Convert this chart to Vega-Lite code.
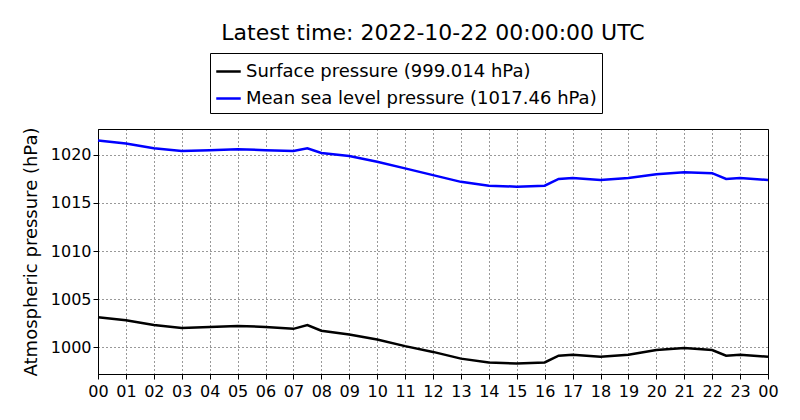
{
  "$schema": "https://vega.github.io/schema/vega-lite/v6.json",
  "autosize": "none",
  "width": 670,
  "height": 245,
  "padding": {"left": 98, "top": 129, "right": 32, "bottom": 46},
  "background": "#ffffff",
  "title": {"text": "Latest time: 2022-10-22 00:00:00 UTC", "fontSize": 22, "font": "DejaVu Sans", "fontWeight": "normal", "color": "#000000", "offset": 8, "anchor": "middle"},
  "data": {
    "values": [
      {"hour": 0, "Surface": 1003.1, "MSL": 1021.5},
      {"hour": 1, "Surface": 1002.8, "MSL": 1021.2},
      {"hour": 2, "Surface": 1002.3, "MSL": 1020.7},
      {"hour": 3, "Surface": 1002.0, "MSL": 1020.4},
      {"hour": 4, "Surface": 1002.1, "MSL": 1020.5},
      {"hour": 5, "Surface": 1002.2, "MSL": 1020.6},
      {"hour": 6, "Surface": 1002.1, "MSL": 1020.5},
      {"hour": 7, "Surface": 1001.9, "MSL": 1020.4},
      {"hour": 7.5, "Surface": 1002.3, "MSL": 1020.7},
      {"hour": 8, "Surface": 1001.7, "MSL": 1020.2},
      {"hour": 9, "Surface": 1001.3, "MSL": 1019.9},
      {"hour": 10, "Surface": 1000.8, "MSL": 1019.3},
      {"hour": 11, "Surface": 1000.1, "MSL": 1018.6},
      {"hour": 12, "Surface": 999.5, "MSL": 1017.9},
      {"hour": 13, "Surface": 998.8, "MSL": 1017.2},
      {"hour": 14, "Surface": 998.4, "MSL": 1016.8},
      {"hour": 15, "Surface": 998.3, "MSL": 1016.7},
      {"hour": 16, "Surface": 998.4, "MSL": 1016.8},
      {"hour": 16.5, "Surface": 999.1, "MSL": 1017.5},
      {"hour": 17, "Surface": 999.2, "MSL": 1017.6},
      {"hour": 18, "Surface": 999.0, "MSL": 1017.4},
      {"hour": 19, "Surface": 999.2, "MSL": 1017.6},
      {"hour": 20, "Surface": 999.7, "MSL": 1018.0},
      {"hour": 21, "Surface": 999.9, "MSL": 1018.2},
      {"hour": 22, "Surface": 999.7, "MSL": 1018.1},
      {"hour": 22.5, "Surface": 999.1, "MSL": 1017.5},
      {"hour": 23, "Surface": 999.2, "MSL": 1017.6},
      {"hour": 24, "Surface": 999.0, "MSL": 1017.4}
    ]
  },
  "transform": [
    {"fold": ["Surface", "MSL"], "as": ["key", "pressure"]},
    {"lookup": "key", "from": {"data": {"values": [
      {"key": "Surface", "series": "Surface pressure (999.014 hPa)"},
      {"key": "MSL", "series": "Mean sea level pressure (1017.46 hPa)"}
    ]}, "key": "key", "fields": ["series"]}}
  ],
  "mark": {"type": "line", "strokeWidth": 2.5},
  "encoding": {
    "x": {
      "field": "hour", "type": "quantitative",
      "scale": {"domain": [0, 24], "nice": false},
      "axis": {"title": null, "values": [0,1,2,3,4,5,6,7,8,9,10,11,12,13,14,15,16,17,18,19,20,21,22,23,24],
        "labelExpr": "datum.value % 24 < 10 ? '0' + (datum.value % 24) : '' + (datum.value % 24)",
        "labelFontSize": 16, "labelFont": "DejaVu Sans", "labelColor": "#000000", "labelPadding": 4,
        "gridDash": [1, 3], "gridColor": "#000000", "gridOpacity": 0.8, "tickColor": "#000000", "domainColor": "#000000", "labelFlush": false}
    },
    "y": {
      "field": "pressure", "type": "quantitative",
      "scale": {"domain": [997.2, 1022.7], "nice": false, "zero": false},
      "axis": {"title": "Atmospheric pressure (hPa)", "values": [1000, 1005, 1010, 1015, 1020], "format": "d",
        "titleFontSize": 18, "titleFont": "DejaVu Sans", "titleFontWeight": "normal", "titleColor": "#000000", "titlePadding": 10,
        "labelFontSize": 16, "labelFont": "DejaVu Sans", "labelColor": "#000000",
        "gridDash": [1, 3], "gridColor": "#000000", "gridOpacity": 0.8, "tickColor": "#000000", "domainColor": "#000000"}
    },
    "color": {
      "field": "series", "type": "nominal",
      "sort": ["Surface pressure (999.014 hPa)", "Mean sea level pressure (1017.46 hPa)"],
      "scale": {"domain": ["Surface pressure (999.014 hPa)", "Mean sea level pressure (1017.46 hPa)"], "range": ["#000000", "#0000ff"]},
      "legend": {"title": null, "orient": "none", "legendX": 112, "legendY": -76, "labelFontSize": 18, "labelFont": "DejaVu Sans", "labelColor": "#000000",
        "symbolType": "stroke", "symbolStrokeWidth": 2.5, "symbolSize": 600, "strokeColor": "#000000", "padding": 5, "rowPadding": 4, "labelLimit": 500, "fillColor": "#ffffff"}
    }
  },
  "config": {"view": {"stroke": "#000000"}}
}
